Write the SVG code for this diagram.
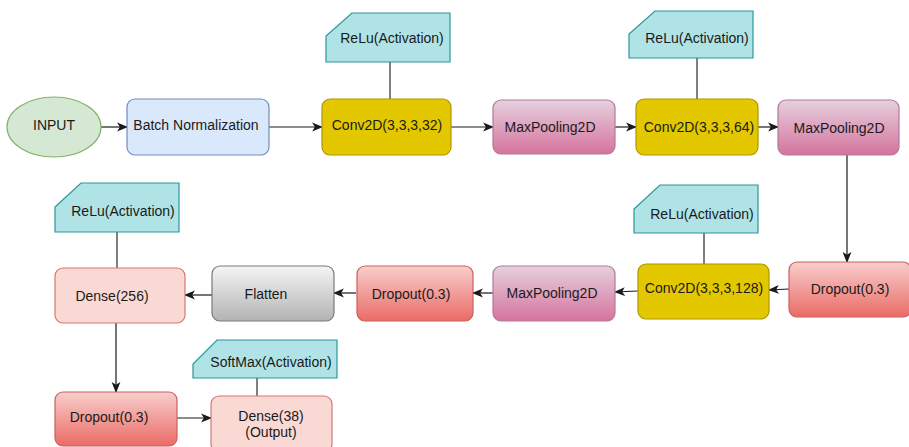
<svg xmlns="http://www.w3.org/2000/svg" width="909" height="447" viewBox="0 0 909 447">
<defs>
<linearGradient id="gMP" x1="0" y1="0" x2="0" y2="1"><stop offset="0" stop-color="#e6d0de"/><stop offset="1" stop-color="#d5739d"/></linearGradient>
<linearGradient id="gDO" x1="0" y1="0" x2="0" y2="1"><stop offset="0" stop-color="#f8cecc"/><stop offset="1" stop-color="#ea6b66"/></linearGradient>
<linearGradient id="gFL" x1="0" y1="0" x2="0" y2="1"><stop offset="0" stop-color="#f5f5f5"/><stop offset="1" stop-color="#b3b3b3"/></linearGradient>
<marker id="arr" viewBox="0 0 10 10" refX="9" refY="5" markerWidth="11" markerHeight="11" markerUnits="userSpaceOnUse" orient="auto">
<path d="M0,1 L10,5 L0,9 L2.5,5 Z" fill="#1a1a1a"/>
</marker>
<style>
text{font-family:"Liberation Sans",Arial,sans-serif;font-size:14px;fill:#1a1a1a;text-anchor:middle;dominant-baseline:central}
.in{fill:#d5e8d4;stroke:#82b366;stroke-width:1.2}
.bn{fill:#dae8fc;stroke:#6c8ebf;stroke-width:1.2}
.cv{fill:#e3c800;stroke:#b09500;stroke-width:1.2}
.mp{fill:url(#gMP);stroke:#b07a9a;stroke-width:1.2}
.do{fill:url(#gDO);stroke:#c8625d;stroke-width:1.2}
.fl{fill:url(#gFL);stroke:#7a7a7a;stroke-width:1.2}
.de{fill:#fad9d5;stroke:#cf7a70;stroke-width:1.2}
.act{fill:#b0e3e6;stroke:#2a969c;stroke-width:1.2}
.cm{stroke:#1a1a1a;stroke-width:1.2;fill:none;marker-end:url(#arr)}
.ln{stroke:#555;stroke-width:1.5;fill:none}
</style>
</defs>
<g id="connectors">
<line class="cm" x1="101" y1="127" x2="127" y2="127"/>
<line class="cm" x1="269" y1="127" x2="322" y2="127"/>
<line class="cm" x1="451" y1="127" x2="493" y2="127"/>
<line class="cm" x1="615" y1="127" x2="636" y2="127"/>
<line class="cm" x1="758" y1="127" x2="778" y2="127"/>
<line class="cm" x1="847" y1="155" x2="847" y2="262"/>
<line class="cm" x1="789" y1="289" x2="769" y2="290"/>
<line class="cm" x1="638" y1="291" x2="615" y2="292"/>
<line class="cm" x1="493" y1="293" x2="473" y2="293"/>
<line class="cm" x1="356" y1="293" x2="334" y2="293"/>
<line class="cm" x1="212" y1="295" x2="185" y2="295"/>
<line class="cm" x1="116" y1="323" x2="116" y2="392"/>
<line class="cm" x1="177" y1="418" x2="211" y2="418"/>
<line class="ln" x1="390" y1="62" x2="390" y2="99"/>
<line class="ln" x1="697" y1="58" x2="697" y2="99"/>
<line class="ln" x1="704" y1="233" x2="704" y2="264"/>
<line class="ln" x1="117" y1="232" x2="117" y2="268"/>
<line class="ln" x1="257" y1="378" x2="257" y2="396"/>
</g>
<g id="input"><ellipse class="in" cx="54" cy="127" rx="47" ry="30"/><text x="54" y="125">INPUT</text></g>
<g id="batchnorm"><rect class="bn" x="127" y="99" width="142" height="56" rx="8"/><text x="196" y="125">Batch Normalization</text></g>
<g id="relu1"><path class="act" d="M352,13 H450 V62 H326 V36 Z"/><text x="392" y="38">ReLu(Activation)</text></g>
<g id="conv1"><rect class="cv" x="322" y="99" width="129" height="56" rx="8"/><text x="387" y="125">Conv2D(3,3,3,32)</text></g>
<g id="maxpool1"><rect class="mp" x="493" y="100" width="122" height="54" rx="8"/><text x="550" y="127">MaxPooling2D</text></g>
<g id="relu2"><path class="act" d="M655,11 H753 V58 H629 V34 Z"/><text x="697" y="38">ReLu(Activation)</text></g>
<g id="conv2"><rect class="cv" x="636" y="99" width="122" height="56" rx="8"/><text x="699" y="127">Conv2D(3,3,3,64)</text></g>
<g id="maxpool2"><rect class="mp" x="778" y="100" width="121" height="55" rx="8"/><text x="839" y="128">MaxPooling2D</text></g>
<g id="dropout1"><rect class="do" x="789" y="262" width="122" height="55" rx="8"/><text x="850" y="289">Dropout(0.3)</text></g>
<g id="relu3"><path class="act" d="M660,185 H758 V233 H634 V209 Z"/><text x="702" y="214">ReLu(Activation)</text></g>
<g id="conv3"><rect class="cv" x="638" y="264" width="131" height="55" rx="8"/><text x="704" y="288">Conv2D(3,3,3,128)</text></g>
<g id="maxpool3"><rect class="mp" x="493" y="266" width="122" height="55" rx="8"/><text x="552" y="293">MaxPooling2D</text></g>
<g id="dropout2"><rect class="do" x="357" y="266" width="116" height="55" rx="8"/><text x="411" y="294">Dropout(0.3)</text></g>
<g id="flatten"><rect class="fl" x="212" y="266" width="122" height="55" rx="8"/><text x="266" y="294">Flatten</text></g>
<g id="relu4"><path class="act" d="M81,183 H179 V232 H55 V207 Z"/><text x="123" y="211">ReLu(Activation)</text></g>
<g id="dense256"><rect class="de" x="55" y="268" width="130" height="55" rx="8"/><text x="112" y="296">Dense(256)</text></g>
<g id="dropout3"><rect class="do" x="55" y="392" width="122" height="54" rx="8"/><text x="109" y="417">Dropout(0.3)</text></g>
<g id="softmax"><path class="act" d="M217,340 H337 V378 H193 V364 Z"/><text x="271" y="362">SoftMax(Activation)</text></g>
<g id="dense38"><rect class="de" x="211" y="396" width="121" height="56" rx="8"/><text x="271" y="416">Dense(38)</text><text x="271" y="432">(Output)</text></g>
</svg>
